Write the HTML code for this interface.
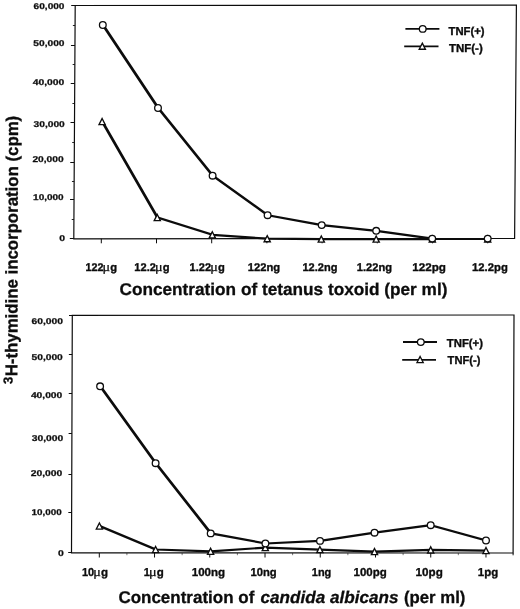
<!DOCTYPE html>
<html lang="en">
<head>
<meta charset="utf-8">
<title>3H-thymidine incorporation chart</title>
<style>
html,body{margin:0;padding:0;background:#fff;}
body{width:520px;height:609px;overflow:hidden;font-family:"Liberation Sans",sans-serif;}
svg{display:block;will-change:transform;}
</style>
</head>
<body>
<svg width="520" height="609" viewBox="0 0 520 609" shape-rendering="geometricPrecision" text-rendering="geometricPrecision">
<rect x="0" y="0" width="520" height="609" fill="#ffffff"/>
<path d="M75.2 5.5 L516.4 5.2 L514.6 238.5 L73.8 238.8 Z" fill="none" stroke="#0c0c0c" stroke-width="1.2" stroke-linejoin="miter"/>
<path d="M69.80 238.50 H73.80" stroke="#0c0c0c" stroke-width="1"/>
<path d="M70.04 199.50 H74.04" stroke="#0c0c0c" stroke-width="1"/>
<path d="M70.26 162.50 H74.26" stroke="#0c0c0c" stroke-width="1"/>
<path d="M70.50 122.50 H74.50" stroke="#0c0c0c" stroke-width="1"/>
<path d="M70.73 83.50 H74.73" stroke="#0c0c0c" stroke-width="1"/>
<path d="M70.96 45.50 H74.96" stroke="#0c0c0c" stroke-width="1"/>
<path d="M71.20 5.50 H75.20" stroke="#0c0c0c" stroke-width="1"/>
<path d="M71.72 219.50 H73.92" stroke="#0c0c0c" stroke-width="0.9"/>
<path d="M71.94 181.50 H74.14" stroke="#0c0c0c" stroke-width="0.9"/>
<path d="M72.18 142.50 H74.38" stroke="#0c0c0c" stroke-width="0.9"/>
<path d="M72.41 103.50 H74.61" stroke="#0c0c0c" stroke-width="0.9"/>
<path d="M72.65 64.50 H74.85" stroke="#0c0c0c" stroke-width="0.9"/>
<path d="M72.88 25.50 H75.08" stroke="#0c0c0c" stroke-width="0.9"/>
<text x="59.3" y="240.7" font-family="Liberation Sans, sans-serif" font-weight="bold" font-size="8.4" text-anchor="start" fill="#0c0c0c" textLength="5.8" lengthAdjust="spacingAndGlyphs" stroke="#0c0c0c" stroke-width="0.25" stroke-linejoin="round">0</text>
<text x="33.1" y="200.4" font-family="Liberation Sans, sans-serif" font-weight="bold" font-size="8.4" text-anchor="start" fill="#0c0c0c" textLength="30.6" lengthAdjust="spacingAndGlyphs" stroke="#0c0c0c" stroke-width="0.25" stroke-linejoin="round">10,000</text>
<text x="32.4" y="162.0" font-family="Liberation Sans, sans-serif" font-weight="bold" font-size="8.4" text-anchor="start" fill="#0c0c0c" textLength="31.3" lengthAdjust="spacingAndGlyphs" stroke="#0c0c0c" stroke-width="0.25" stroke-linejoin="round">20,000</text>
<text x="33.5" y="127.3" font-family="Liberation Sans, sans-serif" font-weight="bold" font-size="8.4" text-anchor="start" fill="#0c0c0c" textLength="31.3" lengthAdjust="spacingAndGlyphs" stroke="#0c0c0c" stroke-width="0.25" stroke-linejoin="round">30,000</text>
<text x="32.7" y="84.9" font-family="Liberation Sans, sans-serif" font-weight="bold" font-size="8.4" text-anchor="start" fill="#0c0c0c" textLength="31.6" lengthAdjust="spacingAndGlyphs" stroke="#0c0c0c" stroke-width="0.25" stroke-linejoin="round">40,000</text>
<text x="33.3" y="46.2" font-family="Liberation Sans, sans-serif" font-weight="bold" font-size="8.4" text-anchor="start" fill="#0c0c0c" textLength="31.2" lengthAdjust="spacingAndGlyphs" stroke="#0c0c0c" stroke-width="0.25" stroke-linejoin="round">50,000</text>
<text x="33.6" y="9.2" font-family="Liberation Sans, sans-serif" font-weight="bold" font-size="8.4" text-anchor="start" fill="#0c0c0c" textLength="30.9" lengthAdjust="spacingAndGlyphs" stroke="#0c0c0c" stroke-width="0.25" stroke-linejoin="round">60,000</text>
<path d="M101.30 238.7 V243.29999999999998" stroke="#0c0c0c" stroke-width="1"/>
<path d="M156.50 238.7 V243.29999999999998" stroke="#0c0c0c" stroke-width="1"/>
<path d="M211.70 238.7 V243.29999999999998" stroke="#0c0c0c" stroke-width="1"/>
<path d="M266.90 238.7 V243.29999999999998" stroke="#0c0c0c" stroke-width="1"/>
<path d="M322.10 238.7 V243.29999999999998" stroke="#0c0c0c" stroke-width="1"/>
<path d="M377.30 238.7 V243.29999999999998" stroke="#0c0c0c" stroke-width="1"/>
<path d="M432.50 238.7 V243.29999999999998" stroke="#0c0c0c" stroke-width="1"/>
<path d="M487.70 238.7 V243.29999999999998" stroke="#0c0c0c" stroke-width="1"/>
<text x="85.4" y="271.4" font-family="Liberation Sans, sans-serif" font-weight="bold" font-size="11.2" text-anchor="start" fill="#0c0c0c" textLength="18.0" lengthAdjust="spacingAndGlyphs" stroke="#0c0c0c" stroke-width="0.35" stroke-linejoin="round">122</text><text x="102.55" y="271.4" font-family="Liberation Serif, serif" font-size="13" fill="#0c0c0c" stroke="#0c0c0c" stroke-width="0.25" textLength="7.6" lengthAdjust="spacingAndGlyphs">μ</text><text x="110.2" y="271.4" font-family="Liberation Sans, sans-serif" font-weight="bold" font-size="11.2" text-anchor="start" fill="#0c0c0c" stroke="#0c0c0c" stroke-width="0.35" stroke-linejoin="round">g</text>
<text x="134.3" y="271.4" font-family="Liberation Sans, sans-serif" font-weight="bold" font-size="11.2" text-anchor="start" fill="#0c0c0c" textLength="21.6" lengthAdjust="spacingAndGlyphs" stroke="#0c0c0c" stroke-width="0.35" stroke-linejoin="round">12.2</text><text x="155.05" y="271.4" font-family="Liberation Serif, serif" font-size="13" fill="#0c0c0c" stroke="#0c0c0c" stroke-width="0.25" textLength="7.6" lengthAdjust="spacingAndGlyphs">μ</text><text x="162.7" y="271.4" font-family="Liberation Sans, sans-serif" font-weight="bold" font-size="11.2" text-anchor="start" fill="#0c0c0c" stroke="#0c0c0c" stroke-width="0.35" stroke-linejoin="round">g</text>
<text x="189.6" y="271.4" font-family="Liberation Sans, sans-serif" font-weight="bold" font-size="11.2" text-anchor="start" fill="#0c0c0c" textLength="21.5" lengthAdjust="spacingAndGlyphs" stroke="#0c0c0c" stroke-width="0.35" stroke-linejoin="round">1.22</text><text x="210.25" y="271.4" font-family="Liberation Serif, serif" font-size="13" fill="#0c0c0c" stroke="#0c0c0c" stroke-width="0.25" textLength="7.6" lengthAdjust="spacingAndGlyphs">μ</text><text x="217.9" y="271.4" font-family="Liberation Sans, sans-serif" font-weight="bold" font-size="11.2" text-anchor="start" fill="#0c0c0c" stroke="#0c0c0c" stroke-width="0.35" stroke-linejoin="round">g</text>
<text x="247.7" y="271.4" font-family="Liberation Sans, sans-serif" font-weight="bold" font-size="11.2" text-anchor="start" fill="#0c0c0c" textLength="32.4" lengthAdjust="spacingAndGlyphs" stroke="#0c0c0c" stroke-width="0.35" stroke-linejoin="round">122ng</text>
<text x="302.4" y="271.4" font-family="Liberation Sans, sans-serif" font-weight="bold" font-size="11.2" text-anchor="start" fill="#0c0c0c" textLength="35.0" lengthAdjust="spacingAndGlyphs" stroke="#0c0c0c" stroke-width="0.35" stroke-linejoin="round">12.2ng</text>
<text x="356.8" y="271.4" font-family="Liberation Sans, sans-serif" font-weight="bold" font-size="11.2" text-anchor="start" fill="#0c0c0c" textLength="35.2" lengthAdjust="spacingAndGlyphs" stroke="#0c0c0c" stroke-width="0.35" stroke-linejoin="round">1.22ng</text>
<text x="412.2" y="271.4" font-family="Liberation Sans, sans-serif" font-weight="bold" font-size="11.2" text-anchor="start" fill="#0c0c0c" textLength="33.8" lengthAdjust="spacingAndGlyphs" stroke="#0c0c0c" stroke-width="0.35" stroke-linejoin="round">122pg</text>
<text x="472.0" y="271.4" font-family="Liberation Sans, sans-serif" font-weight="bold" font-size="11.2" text-anchor="start" fill="#0c0c0c" textLength="35.8" lengthAdjust="spacingAndGlyphs" stroke="#0c0c0c" stroke-width="0.35" stroke-linejoin="round">12.2pg</text>
<text x="119.5" y="294.7" font-family="Liberation Sans, sans-serif" font-weight="bold" font-size="17" text-anchor="start" fill="#0c0c0c" textLength="327.9" lengthAdjust="spacingAndGlyphs" stroke="#0c0c0c" stroke-width="0.3" stroke-linejoin="round">Concentration of tetanus toxoid (per ml)</text>
<g transform="scale(1.35 1)"><polyline points="76.30,25 117.19,108 157.63,175.7 198.37,215.2 238.44,225.1 278.81,230.8 320.30,238.6" fill="none" stroke="#0c0c0c" stroke-width="2.2" stroke-linejoin="round" stroke-linecap="round"/></g>
<g transform="scale(1.35 1)"><polyline points="75.78,121.6 116.67,217.6 157.41,234.8 198.07,238.7 238.15,239.1 278.81,239.1 320.37,239.1" fill="none" stroke="#0c0c0c" stroke-width="2.2" stroke-linejoin="round" stroke-linecap="round"/></g>
<path d="M432 239.2 H488" stroke="#0c0c0c" stroke-width="1.7"/>
<path d="M102.10 118.55 L105.20 124.65 L99.00 124.65 Z" fill="#fff" stroke="#0c0c0c" stroke-width="1.35" stroke-linejoin="miter"/>
<path d="M157.30 214.55 L160.40 220.65 L154.20 220.65 Z" fill="#fff" stroke="#0c0c0c" stroke-width="1.35" stroke-linejoin="miter"/>
<path d="M212.30 231.75 L215.40 237.85 L209.20 237.85 Z" fill="#fff" stroke="#0c0c0c" stroke-width="1.35" stroke-linejoin="miter"/>
<path d="M267.20 235.65 L270.30 241.75 L264.10 241.75 Z" fill="#fff" stroke="#0c0c0c" stroke-width="1.35" stroke-linejoin="miter"/>
<path d="M321.30 236.05 L324.40 242.15 L318.20 242.15 Z" fill="#fff" stroke="#0c0c0c" stroke-width="1.35" stroke-linejoin="miter"/>
<path d="M376.20 236.05 L379.30 242.15 L373.10 242.15 Z" fill="#fff" stroke="#0c0c0c" stroke-width="1.35" stroke-linejoin="miter"/>
<path d="M432.30 236.05 L435.40 242.15 L429.20 242.15 Z" fill="#fff" stroke="#0c0c0c" stroke-width="1.35" stroke-linejoin="miter"/>
<path d="M487.70 236.05 L490.80 242.15 L484.60 242.15 Z" fill="#fff" stroke="#0c0c0c" stroke-width="1.35" stroke-linejoin="miter"/>
<ellipse cx="102.8" cy="25" rx="3.35" ry="3.3" fill="#fff" stroke="#0c0c0c" stroke-width="1.3"/>
<ellipse cx="158" cy="108" rx="3.35" ry="3.3" fill="#fff" stroke="#0c0c0c" stroke-width="1.3"/>
<ellipse cx="212.6" cy="175.7" rx="3.35" ry="3.3" fill="#fff" stroke="#0c0c0c" stroke-width="1.3"/>
<ellipse cx="267.6" cy="215.2" rx="3.35" ry="3.3" fill="#fff" stroke="#0c0c0c" stroke-width="1.3"/>
<ellipse cx="321.7" cy="225.1" rx="3.35" ry="3.3" fill="#fff" stroke="#0c0c0c" stroke-width="1.3"/>
<ellipse cx="376.2" cy="230.8" rx="3.35" ry="3.3" fill="#fff" stroke="#0c0c0c" stroke-width="1.3"/>
<ellipse cx="432.2" cy="238.6" rx="3.35" ry="3.3" fill="#fff" stroke="#0c0c0c" stroke-width="1.3"/>
<ellipse cx="487.7" cy="238.6" rx="3.35" ry="3.3" fill="#fff" stroke="#0c0c0c" stroke-width="1.3"/>
<path d="M405.4 28.8 H439.4" stroke="#0c0c0c" stroke-width="1.8"/>
<ellipse cx="422.7" cy="28.9" rx="3.35" ry="3.3" fill="#fff" stroke="#0c0c0c" stroke-width="1.3"/>
<text x="448.5" y="34.8" font-family="Liberation Sans, sans-serif" font-weight="bold" font-size="11.5" text-anchor="start" fill="#0c0c0c" textLength="36.1" lengthAdjust="spacingAndGlyphs" stroke="#0c0c0c" stroke-width="0.35" stroke-linejoin="round">TNF(+)</text>
<path d="M404.2 46.3 H438.5" stroke="#0c0c0c" stroke-width="1.8"/>
<path d="M422.30 43.15 L425.40 49.25 L419.20 49.25 Z" fill="#fff" stroke="#0c0c0c" stroke-width="1.35" stroke-linejoin="miter"/>
<text x="449" y="51.6" font-family="Liberation Sans, sans-serif" font-weight="bold" font-size="11.5" text-anchor="start" fill="#0c0c0c" textLength="33.7" lengthAdjust="spacingAndGlyphs" stroke="#0c0c0c" stroke-width="0.35" stroke-linejoin="round">TNF(-)</text>
<path d="M72.3 315.4 L514.0 315.0 L513.1 553.0 L71.5 552.9 Z" fill="none" stroke="#0c0c0c" stroke-width="1.2" stroke-linejoin="miter"/>
<path d="M513.1 553 V555.3" stroke="#0c0c0c" stroke-width="1"/>
<path d="M68.20 552.50 H71.50" stroke="#0c0c0c" stroke-width="1"/>
<path d="M68.34 512.50 H71.64" stroke="#0c0c0c" stroke-width="1"/>
<path d="M68.46 474.50 H71.76" stroke="#0c0c0c" stroke-width="1"/>
<path d="M68.60 433.50 H71.90" stroke="#0c0c0c" stroke-width="1"/>
<path d="M68.74 393.50 H72.04" stroke="#0c0c0c" stroke-width="1"/>
<path d="M68.87 354.50 H72.17" stroke="#0c0c0c" stroke-width="1"/>
<path d="M69.00 315.50 H72.30" stroke="#0c0c0c" stroke-width="1"/>
<text x="57.9" y="555.8" font-family="Liberation Sans, sans-serif" font-weight="bold" font-size="8.4" text-anchor="start" fill="#0c0c0c" textLength="5.8" lengthAdjust="spacingAndGlyphs" stroke="#0c0c0c" stroke-width="0.25" stroke-linejoin="round">0</text>
<text x="31.5" y="514.6" font-family="Liberation Sans, sans-serif" font-weight="bold" font-size="8.4" text-anchor="start" fill="#0c0c0c" textLength="30.2" lengthAdjust="spacingAndGlyphs" stroke="#0c0c0c" stroke-width="0.25" stroke-linejoin="round">10,000</text>
<text x="30.7" y="476.0" font-family="Liberation Sans, sans-serif" font-weight="bold" font-size="8.4" text-anchor="start" fill="#0c0c0c" textLength="31.6" lengthAdjust="spacingAndGlyphs" stroke="#0c0c0c" stroke-width="0.25" stroke-linejoin="round">20,000</text>
<text x="31.8" y="440.7" font-family="Liberation Sans, sans-serif" font-weight="bold" font-size="8.4" text-anchor="start" fill="#0c0c0c" textLength="31.5" lengthAdjust="spacingAndGlyphs" stroke="#0c0c0c" stroke-width="0.25" stroke-linejoin="round">30,000</text>
<text x="30.9" y="398.3" font-family="Liberation Sans, sans-serif" font-weight="bold" font-size="8.4" text-anchor="start" fill="#0c0c0c" textLength="31.4" lengthAdjust="spacingAndGlyphs" stroke="#0c0c0c" stroke-width="0.25" stroke-linejoin="round">40,000</text>
<text x="31.5" y="360.2" font-family="Liberation Sans, sans-serif" font-weight="bold" font-size="8.4" text-anchor="start" fill="#0c0c0c" textLength="31.3" lengthAdjust="spacingAndGlyphs" stroke="#0c0c0c" stroke-width="0.25" stroke-linejoin="round">50,000</text>
<text x="31.5" y="323.7" font-family="Liberation Sans, sans-serif" font-weight="bold" font-size="8.4" text-anchor="start" fill="#0c0c0c" textLength="31.5" lengthAdjust="spacingAndGlyphs" stroke="#0c0c0c" stroke-width="0.25" stroke-linejoin="round">60,000</text>
<path d="M99.30 553.0 V557.5" stroke="#0c0c0c" stroke-width="1"/>
<path d="M126.90 553.0 V555.2" stroke="#0c0c0c" stroke-width="0.8" opacity="0.7"/>
<path d="M154.54 553.0 V557.5" stroke="#0c0c0c" stroke-width="1"/>
<path d="M182.14 553.0 V555.2" stroke="#0c0c0c" stroke-width="0.8" opacity="0.7"/>
<path d="M209.78 553.0 V557.5" stroke="#0c0c0c" stroke-width="1"/>
<path d="M237.38 553.0 V555.2" stroke="#0c0c0c" stroke-width="0.8" opacity="0.7"/>
<path d="M265.02 553.0 V557.5" stroke="#0c0c0c" stroke-width="1"/>
<path d="M292.62 553.0 V555.2" stroke="#0c0c0c" stroke-width="0.8" opacity="0.7"/>
<path d="M320.26 553.0 V557.5" stroke="#0c0c0c" stroke-width="1"/>
<path d="M347.86 553.0 V555.2" stroke="#0c0c0c" stroke-width="0.8" opacity="0.7"/>
<path d="M375.50 553.0 V557.5" stroke="#0c0c0c" stroke-width="1"/>
<path d="M403.10 553.0 V555.2" stroke="#0c0c0c" stroke-width="0.8" opacity="0.7"/>
<path d="M430.74 553.0 V557.5" stroke="#0c0c0c" stroke-width="1"/>
<path d="M458.34 553.0 V555.2" stroke="#0c0c0c" stroke-width="0.8" opacity="0.7"/>
<path d="M485.98 553.0 V557.5" stroke="#0c0c0c" stroke-width="1"/>
<text x="81.9" y="576.4" font-family="Liberation Sans, sans-serif" font-weight="bold" font-size="11.5" text-anchor="start" fill="#0c0c0c" textLength="12.2" lengthAdjust="spacingAndGlyphs" stroke="#0c0c0c" stroke-width="0.35" stroke-linejoin="round">10</text><text x="93.25" y="576.4" font-family="Liberation Serif, serif" font-size="13" fill="#0c0c0c" stroke="#0c0c0c" stroke-width="0.25" textLength="7.6" lengthAdjust="spacingAndGlyphs">μ</text><text x="100.9" y="576.4" font-family="Liberation Sans, sans-serif" font-weight="bold" font-size="11.5" text-anchor="start" fill="#0c0c0c" stroke="#0c0c0c" stroke-width="0.35" stroke-linejoin="round">g</text>
<text x="143.8" y="576.4" font-family="Liberation Sans, sans-serif" font-weight="bold" font-size="11.5" text-anchor="start" fill="#0c0c0c" textLength="6.1" lengthAdjust="spacingAndGlyphs" stroke="#0c0c0c" stroke-width="0.35" stroke-linejoin="round">1</text><text x="149.05" y="576.4" font-family="Liberation Serif, serif" font-size="13" fill="#0c0c0c" stroke="#0c0c0c" stroke-width="0.25" textLength="7.6" lengthAdjust="spacingAndGlyphs">μ</text><text x="156.7" y="576.4" font-family="Liberation Sans, sans-serif" font-weight="bold" font-size="11.5" text-anchor="start" fill="#0c0c0c" stroke="#0c0c0c" stroke-width="0.35" stroke-linejoin="round">g</text>
<text x="191.8" y="576.4" font-family="Liberation Sans, sans-serif" font-weight="bold" font-size="11.5" text-anchor="start" fill="#0c0c0c" textLength="33.3" lengthAdjust="spacingAndGlyphs" stroke="#0c0c0c" stroke-width="0.35" stroke-linejoin="round">100ng</text>
<text x="250.5" y="576.4" font-family="Liberation Sans, sans-serif" font-weight="bold" font-size="11.5" text-anchor="start" fill="#0c0c0c" textLength="26.2" lengthAdjust="spacingAndGlyphs" stroke="#0c0c0c" stroke-width="0.35" stroke-linejoin="round">10ng</text>
<text x="311.8" y="576.4" font-family="Liberation Sans, sans-serif" font-weight="bold" font-size="11.5" text-anchor="start" fill="#0c0c0c" textLength="19.5" lengthAdjust="spacingAndGlyphs" stroke="#0c0c0c" stroke-width="0.35" stroke-linejoin="round">1ng</text>
<text x="353.5" y="576.4" font-family="Liberation Sans, sans-serif" font-weight="bold" font-size="11.5" text-anchor="start" fill="#0c0c0c" textLength="33.2" lengthAdjust="spacingAndGlyphs" stroke="#0c0c0c" stroke-width="0.35" stroke-linejoin="round">100pg</text>
<text x="415.6" y="576.4" font-family="Liberation Sans, sans-serif" font-weight="bold" font-size="11.5" text-anchor="start" fill="#0c0c0c" textLength="27.2" lengthAdjust="spacingAndGlyphs" stroke="#0c0c0c" stroke-width="0.35" stroke-linejoin="round">10pg</text>
<text x="477.8" y="576.4" font-family="Liberation Sans, sans-serif" font-weight="bold" font-size="11.5" text-anchor="start" fill="#0c0c0c" textLength="20.4" lengthAdjust="spacingAndGlyphs" stroke="#0c0c0c" stroke-width="0.35" stroke-linejoin="round">1pg</text>
<text x="118.4" y="603" font-family="Liberation Sans, sans-serif" font-weight="bold" font-size="17" text-anchor="start" fill="#0c0c0c" textLength="135.9" lengthAdjust="spacingAndGlyphs" stroke="#0c0c0c" stroke-width="0.3" stroke-linejoin="round">Concentration of</text>
<text x="260.5" y="603" font-family="Liberation Sans, sans-serif" font-weight="bold" font-size="17" text-anchor="start" fill="#0c0c0c" textLength="138" lengthAdjust="spacingAndGlyphs" font-style="italic" stroke="#0c0c0c" stroke-width="0.3" stroke-linejoin="round">candida albicans</text>
<text x="404" y="603" font-family="Liberation Sans, sans-serif" font-weight="bold" font-size="17" text-anchor="start" fill="#0c0c0c" textLength="61.4" lengthAdjust="spacingAndGlyphs" stroke="#0c0c0c" stroke-width="0.3" stroke-linejoin="round">(per ml)</text>
<g transform="scale(1.35 1)"><polyline points="74.30,386.3 115.41,463.2 156.22,533.4 196.74,543.5 237.19,540.9 277.56,532.7 319.19,525.2 360.15,540.5" fill="none" stroke="#0c0c0c" stroke-width="2.2" stroke-linejoin="round" stroke-linecap="round"/></g>
<g transform="scale(1.35 1)"><polyline points="73.78,526 115.41,549.5 156.15,551.3 196.67,547.6 237.11,549.6 277.56,551.6 319.19,549.9 360.15,550.6" fill="none" stroke="#0c0c0c" stroke-width="2.2" stroke-linejoin="round" stroke-linecap="round"/></g>
<path d="M99.40 522.95 L102.50 529.05 L96.30 529.05 Z" fill="#fff" stroke="#0c0c0c" stroke-width="1.35" stroke-linejoin="miter"/>
<path d="M155.60 546.45 L158.70 552.55 L152.50 552.55 Z" fill="#fff" stroke="#0c0c0c" stroke-width="1.35" stroke-linejoin="miter"/>
<path d="M210.60 548.25 L213.70 554.35 L207.50 554.35 Z" fill="#fff" stroke="#0c0c0c" stroke-width="1.35" stroke-linejoin="miter"/>
<path d="M265.30 544.55 L268.40 550.65 L262.20 550.65 Z" fill="#fff" stroke="#0c0c0c" stroke-width="1.35" stroke-linejoin="miter"/>
<path d="M319.90 546.55 L323.00 552.65 L316.80 552.65 Z" fill="#fff" stroke="#0c0c0c" stroke-width="1.35" stroke-linejoin="miter"/>
<path d="M374.50 548.55 L377.60 554.65 L371.40 554.65 Z" fill="#fff" stroke="#0c0c0c" stroke-width="1.35" stroke-linejoin="miter"/>
<path d="M430.70 546.85 L433.80 552.95 L427.60 552.95 Z" fill="#fff" stroke="#0c0c0c" stroke-width="1.35" stroke-linejoin="miter"/>
<path d="M486.00 547.55 L489.10 553.65 L482.90 553.65 Z" fill="#fff" stroke="#0c0c0c" stroke-width="1.35" stroke-linejoin="miter"/>
<ellipse cx="100.1" cy="386.3" rx="3.35" ry="3.3" fill="#fff" stroke="#0c0c0c" stroke-width="1.3"/>
<ellipse cx="155.6" cy="463.2" rx="3.35" ry="3.3" fill="#fff" stroke="#0c0c0c" stroke-width="1.3"/>
<ellipse cx="210.7" cy="533.4" rx="3.35" ry="3.3" fill="#fff" stroke="#0c0c0c" stroke-width="1.3"/>
<ellipse cx="265.4" cy="543.5" rx="3.35" ry="3.3" fill="#fff" stroke="#0c0c0c" stroke-width="1.3"/>
<ellipse cx="320" cy="540.9" rx="3.35" ry="3.3" fill="#fff" stroke="#0c0c0c" stroke-width="1.3"/>
<ellipse cx="374.5" cy="532.7" rx="3.35" ry="3.3" fill="#fff" stroke="#0c0c0c" stroke-width="1.3"/>
<ellipse cx="430.7" cy="525.2" rx="3.35" ry="3.3" fill="#fff" stroke="#0c0c0c" stroke-width="1.3"/>
<ellipse cx="486" cy="540.5" rx="3.35" ry="3.3" fill="#fff" stroke="#0c0c0c" stroke-width="1.3"/>
<path d="M403 342 H437" stroke="#0c0c0c" stroke-width="1.8"/>
<ellipse cx="420.8" cy="342.1" rx="3.35" ry="3.3" fill="#fff" stroke="#0c0c0c" stroke-width="1.3"/>
<text x="446.8" y="346.8" font-family="Liberation Sans, sans-serif" font-weight="bold" font-size="11.5" text-anchor="start" fill="#0c0c0c" textLength="36.2" lengthAdjust="spacingAndGlyphs" stroke="#0c0c0c" stroke-width="0.35" stroke-linejoin="round">TNF(+)</text>
<path d="M402.2 359.9 H436" stroke="#0c0c0c" stroke-width="1.8"/>
<path d="M420.10 356.45 L423.20 362.55 L417.00 362.55 Z" fill="#fff" stroke="#0c0c0c" stroke-width="1.35" stroke-linejoin="miter"/>
<text x="447.6" y="364.4" font-family="Liberation Sans, sans-serif" font-weight="bold" font-size="11.5" text-anchor="start" fill="#0c0c0c" textLength="32.8" lengthAdjust="spacingAndGlyphs" stroke="#0c0c0c" stroke-width="0.35" stroke-linejoin="round">TNF(-)</text>
<g transform="translate(17.2 383.9) rotate(-89.8)"><text x="0" y="-4.7" font-family="Liberation Sans, sans-serif" font-weight="bold" font-size="13" fill="#0c0c0c" stroke="#0c0c0c" stroke-width="0.3">3</text><text x="7.6" y="0" font-family="Liberation Sans, sans-serif" font-weight="bold" font-size="17" fill="#0c0c0c" stroke="#0c0c0c" stroke-width="0.35" textLength="260.5" lengthAdjust="spacingAndGlyphs">H-thymidine incorporation (cpm)</text></g>
</svg>
</body>
</html>
